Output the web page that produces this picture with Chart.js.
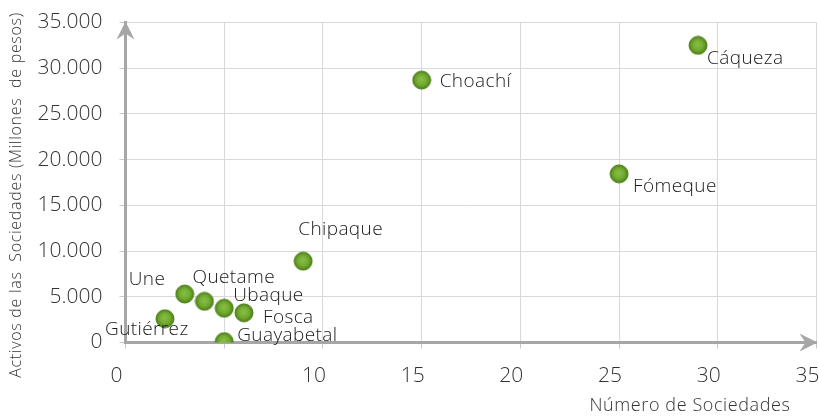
<!DOCTYPE html>
<html>
<head>
<meta charset="utf-8">
<script src="https://cdn.jsdelivr.net/npm/chart.js@4.4.1/dist/chart.umd.min.js"></script>
<style>
  html, body { margin: 0; padding: 0; background: #ffffff; }
  #wrap { width: 819px; height: 420px; position: relative; }
</style>
</head>
<body>
<div id="wrap"><canvas id="c" width="819" height="420"></canvas></div>
<script>
// ---- data ----
const municipios = ['Cáqueza', 'Choachí', 'Fómeque', 'Chipaque', 'Une', 'Quetame', 'Ubaque', 'Fosca', 'Gutiérrez', 'Guayabetal'];
const numeroSociedades = [29, 15, 25, 9, 3, 4, 5, 6, 2, 5];
const activosSociedades = [32500, 28700, 18450, 8900, 5300, 4500, 3750, 3250, 2600, 100];
const xTickValues = [0, 5, 10, 15, 20, 25, 30, 35];
const xTickShown = [0, 10, 15, 20, 25, 30, 35];
const yTickValues = [0, 5000, 10000, 15000, 20000, 25000, 30000, 35000];
const xTitle = 'Número de Sociedades';
const yTitle = 'Activos de las  Sociedades (Millones  de pesos)';

// label placement (pixel offsets from marker centre), kept apart from data
const labelOffsets = [[9, 13], [18, 1], [14, 13], [-5, -32], [-56, -14], [-12, -24], [9, -13], [19, 5], [-60, 11], [13, -6]];

const FONT = '"Open Sans", Lato, sans-serif';
const WEIGHT = 300;

function makeMarker(r) {
  const s = r * 2 + 2;
  const cv = document.createElement('canvas');
  cv.width = s; cv.height = s;
  const g = cv.getContext('2d');
  const c = s / 2;
  const grad = g.createRadialGradient(c - 0.5, c - 1, 0.5, c, c, r);
  grad.addColorStop(0, '#86bd45');
  grad.addColorStop(0.5, '#76ad33');
  grad.addColorStop(0.72, '#66a026');
  grad.addColorStop(1, '#4a7a18');
  g.beginPath();
  g.arc(c, c, r, 0, Math.PI * 2);
  g.fillStyle = grad;
  g.fill();
  g.lineWidth = 1;
  g.strokeStyle = '#50801c';
  g.stroke();
  return cv;
}
const marker = makeMarker(9);

function fmtThousands(v) {
  return String(Math.round(v)).replace(/\B(?=(\d{3})+(?!\d))/g, '.');
}

const arrowPlugin = {
  id: 'arrows',
  beforeDatasetsDraw(chart) {
    const { ctx, chartArea: a } = chart;
    ctx.save();
    ctx.fillStyle = '#a6a6a6';
    const x0 = a.left, t = a.top - 1;
    ctx.beginPath();
    ctx.moveTo(x0, t);
    ctx.lineTo(x0 - 9, t + 18);
    ctx.lineTo(x0, t + 12);
    ctx.lineTo(x0 + 9, t + 18);
    ctx.closePath();
    ctx.fill();
    const y0 = a.bottom, r = a.right + 1;
    ctx.beginPath();
    ctx.moveTo(r, y0);
    ctx.lineTo(r - 18, y0 - 9);
    ctx.lineTo(r - 12, y0);
    ctx.lineTo(r - 18, y0 + 9);
    ctx.closePath();
    ctx.fill();
    ctx.restore();
  }
};

const labelPlugin = {
  id: 'pointLabels',
  afterDatasetsDraw(chart) {
    const { ctx } = chart;
    const meta = chart.getDatasetMeta(0);
    ctx.save();
    ctx.font = WEIGHT + ' 19px ' + FONT;
    ctx.letterSpacing = '0.4px';
    ctx.fillStyle = '#1a1a1a';
    ctx.textAlign = 'left';
    ctx.textBaseline = 'middle';
    meta.data.forEach((el, i) => {
      const o = labelOffsets[i];
      ctx.fillText(municipios[i], el.x + o[0], el.y + o[1]);
    });
    ctx.fillStyle = '#333333';
    ctx.font = WEIGHT + ' 18px ' + FONT;
    ctx.letterSpacing = '0.6px';
    ctx.textAlign = 'center';
    ctx.fillText(xTitle, 690, 406);
    ctx.translate(16, 195);
    ctx.rotate(-Math.PI / 2);
    ctx.font = WEIGHT + ' 16px ' + FONT;
    ctx.letterSpacing = '0.7px';
    ctx.fillText(yTitle, 0, 0);
    ctx.restore();
  }
};

new Chart(document.getElementById('c'), {
  type: 'scatter',
  data: {
    datasets: [{
      label: 'Municipios',
      data: numeroSociedades.map((x, i) => ({ x: x, y: activosSociedades[i] })),
      pointStyle: marker,
      pointRadius: 9,
      pointHoverRadius: 9
    }]
  },
  options: {
    responsive: false,
    animation: false,
    events: [],
    layout: { autoPadding: false, padding: { top: 22.5, right: 2.5, left: 0, bottom: 0 } },
    plugins: { legend: { display: false }, tooltip: { enabled: false } },
    scales: {
      x: {
        type: 'linear',
        min: 0, max: 35,
        afterBuildTicks(scale) { scale.ticks = xTickValues.map(v => ({ value: v })); },
        afterFit(scale) { scale.height = 77.5; scale.paddingLeft = 0; scale.paddingRight = 0; },
        grid: { color: '#d9d9d9', lineWidth: 1, tickLength: 6, tickColor: '#c8c8c8' },
        border: { color: '#a6a6a6', width: 3 },
        ticks: {
          font: { family: FONT, size: 21, weight: WEIGHT },
          color: '#333333',
          padding: 15,
          labelOffset: -9,
          maxRotation: 0,
          autoSkip: false,
          callback: v => (xTickShown.includes(v) ? String(v) : '')
        }
      },
      y: {
        type: 'linear',
        min: 0, max: 35000,
        afterBuildTicks(scale) { scale.ticks = yTickValues.map(v => ({ value: v })); },
        afterFit(scale) { scale.width = 125.5; scale.paddingTop = 0; scale.paddingBottom = 0; },
        grid: { color: '#d9d9d9', lineWidth: 1, tickLength: 6, tickColor: '#c8c8c8' },
        border: { color: '#a6a6a6', width: 3 },
        ticks: {
          font: { family: FONT, size: 21, weight: WEIGHT },
          color: '#333333',
          padding: 17,
          autoSkip: false,
          callback: v => fmtThousands(v)
        }
      }
    }
  },
  plugins: [arrowPlugin, labelPlugin]
});
</script>
</body>
</html>
